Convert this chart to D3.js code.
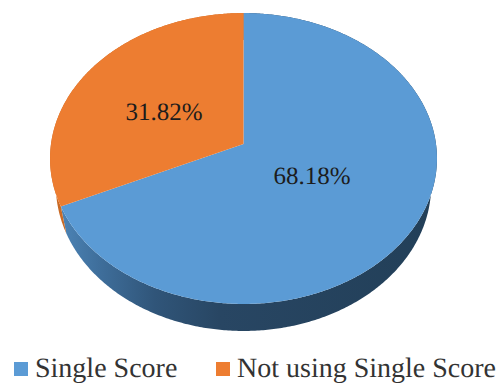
<!DOCTYPE html>
<html>
<head>
<meta charset="utf-8">
<script src="https://cdn.jsdelivr.net/npm/d3@7"></script>
<style>
html, body { margin: 0; padding: 0; background: #fff; }
svg { display: block; }
text { font-family: "Liberation Serif", "Times New Roman", serif; text-rendering: geometricPrecision; }
</style>
</head>
<body>
<svg id="chart" width="499" height="383"></svg>
<script>
// Share of studies by scoring approach
const categories = ["Single Score", "Not using Single Score"];
const shares = [68.18, 31.82];
const faceColors = ["#5b9bd5", "#ed7d31"];
const labelAnchors = [[312, 184], [164, 120]];
const legendX = [14, 216];

const svg = d3.select("#chart");
const width = 499, height = 383;

// Tilted disc: perspective mapping of the unit circle onto the page
const cx = 243.5, cy = 144, radiusX = 192.5, radiusY = 144, tilt = 0.0997;
const depth = 27, rimShrink = 0.97;

function project(angle, r = 1) {
  const u = r * Math.sin(angle), v = r * Math.cos(angle);
  const w = 1 + tilt * v;
  return [cx + radiusX * u / w, cy - radiusY * v / w];
}
function projectLower(angle) {
  const [x, y] = project(angle);
  return [cx + (x - cx) * rimShrink, y + depth];
}

const slices = d3.pie().sort(null).value(d => d)(shares);
const arcAngles = (a0, a1) => {
  const n = Math.max(2, Math.ceil((a1 - a0) / 0.01));
  return d3.range(n + 1).map(i => a0 + (a1 - a0) * i / n);
};
const path = d3.line();

// Horizontal shading for the side wall
const defs = svg.append("defs");
const wallBlue = defs.append("linearGradient").attr("id", "wallBlue")
  .attr("gradientUnits", "userSpaceOnUse")
  .attr("x1", 60).attr("x2", 440).attr("y1", 0).attr("y2", 0);
[[0, "#4c84b6"], [0.1, "#3f6f9c"], [0.25, "#305579"], [0.42, "#284663"], [1, "#223f58"]]
  .forEach(([o, c]) => wallBlue.append("stop").attr("offset", o).attr("stop-color", c));
const wallFills = ["url(#wallBlue)", "#c96a25"];

// Side wall strip below each slice
svg.append("g").selectAll("path").data(slices).join("path")
  .attr("fill", (d, i) => wallFills[i])
  .attr("d", d => {
    const angles = arcAngles(d.startAngle, d.endAngle);
    return path([...angles.map(a => project(a)), ...angles.slice().reverse().map(projectLower)]) + "Z";
  });

// Top face of each slice
svg.append("g").selectAll("path").data(slices).join("path")
  .attr("fill", (d, i) => faceColors[i])
  .attr("d", d => path([[cx, cy], ...arcAngles(d.startAngle, d.endAngle).map(a => project(a))]) + "Z");

// Percentage labels
svg.append("g").selectAll("text").data(slices).join("text")
  .attr("x", (d, i) => labelAnchors[i][0])
  .attr("y", (d, i) => labelAnchors[i][1])
  .attr("text-anchor", "middle")
  .attr("font-size", 25)
  .attr("fill", "#1c1c1c")
  .text(d => d3.format(".2f")(d.data) + "%");

// Legend
const legend = svg.append("g").selectAll("g").data(categories).join("g")
  .attr("transform", (d, i) => `translate(${legendX[i]},362)`);
legend.append("rect").attr("width", 14).attr("height", 14)
  .attr("fill", (d, i) => faceColors[i]);
legend.append("text").attr("x", 21).attr("y", 15)
  .attr("font-size", 28).attr("fill", "#333")
  .text(d => d);
</script>
</body>
</html>
